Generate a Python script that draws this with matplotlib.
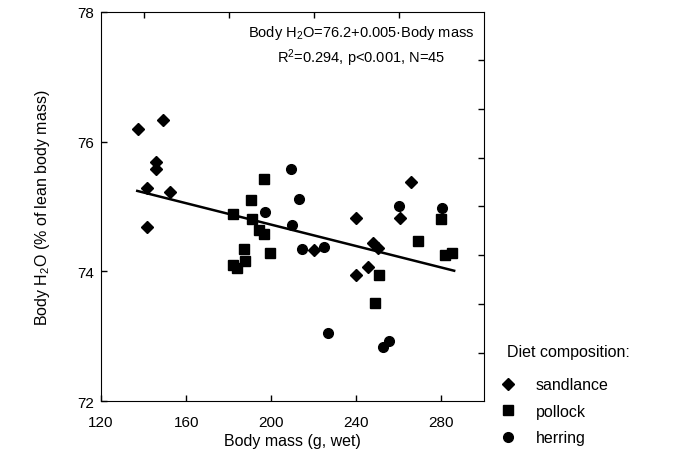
import matplotlib.pyplot as plt
from matplotlib.ticker import FixedLocator

# body mass (g, wet) and body water (% of lean body mass), by diet
sandlance_x = [137.5, 148.9, 145.8, 145.8, 152.3, 141.5, 141.5, 220.3, 265.6,
               239.7, 260.5, 247.8, 250.0, 245.3, 239.7]
sandlance_y = [76.20, 76.33, 75.69, 75.58, 75.23, 75.28, 74.68, 74.33, 75.38,
               74.83, 74.82, 74.43, 74.36, 74.07, 73.95]
pollock_x = [196.6, 190.4, 182.1, 190.9, 194.3, 196.5, 187.1, 199.2, 187.5,
             182.2, 183.8, 279.9, 269.1, 281.8, 284.9, 250.6, 248.7]
pollock_y = [75.43, 75.10, 74.88, 74.80, 74.64, 74.57, 74.35, 74.29, 74.16,
             74.10, 74.05, 74.80, 74.47, 74.25, 74.28, 73.94, 73.52]
herring_x = [209.3, 213.1, 197.1, 209.8, 214.3, 224.9, 259.9, 280.3, 226.6,
             252.4, 255.4]
herring_y = [75.57, 75.12, 74.91, 74.72, 74.35, 74.38, 75.01, 74.97, 73.05,
             72.84, 72.92]

# regression line end points
fit_x = [137, 286]
fit_y = [75.24, 74.01]

plt.rcParams['font.family'] = ['Liberation Sans', 'DejaVu Sans']
plt.rcParams['mathtext.default'] = 'regular'

fig = plt.figure(figsize=(6.74, 4.56), dpi=100)
ax = fig.add_axes([0.15, 0.118, 0.568, 0.854])

ax.plot(fit_x, fit_y, color='black', lw=1.8, zorder=2)
h1, = ax.plot(sandlance_x, sandlance_y, 'D', color='black', ms=6, ls='none', zorder=3)
h2, = ax.plot(pollock_x, pollock_y, 's', color='black', ms=7, ls='none', zorder=3)
h3, = ax.plot(herring_x, herring_y, 'o', color='black', ms=7, ls='none', zorder=3)

ax.set_xlim(120, 300)
ax.set_ylim(72, 78)
ax.set_xticks([120, 160, 200, 240, 280])
ax.set_yticks([72, 74, 76, 78])
ax.xaxis.set_minor_locator(FixedLocator([140, 160, 180, 200, 220, 240, 260, 280]))
ax.yaxis.set_minor_locator(FixedLocator([72.75, 73.5, 74.25, 75, 75.75, 76.5, 77.25]))
ax.tick_params(which='both', direction='in', length=4, width=1)
ax.tick_params(axis='x', which='major', bottom=True, top=False, pad=10)
ax.tick_params(axis='x', which='minor', bottom=False, top=True)
ax.tick_params(axis='y', which='major', left=True, right=False, pad=5)
ax.tick_params(axis='y', which='minor', left=False, right=True)
ax.tick_params(axis='both', which='major', labelsize=11)

ax.set_xlabel('Body mass (g, wet)', fontsize=11.5, labelpad=3)
ax.set_ylabel('Body H$_2$O (% of lean body mass)', fontsize=11.5, labelpad=18)

ax.text(0.68, 0.949, 'Body H$_2$O=76.2+0.005\u00b7Body mass',
        transform=ax.transAxes, ha='center', va='center', fontsize=10.5)
ax.text(0.68, 0.884, 'R$^2$=0.294, p<0.001, N=45',
        transform=ax.transAxes, ha='center', va='center', fontsize=10.5)

# legend: title as separate text, entries below
fig.text(0.752, 0.228, 'Diet composition:', fontsize=11.5, va='center', ha='left')
fig.legend([h1, h2, h3], ['sandlance', 'pollock', 'herring'],
           loc='upper left', bbox_to_anchor=(0.746, 0.170), frameon=False,
           fontsize=11.5, handletextpad=1.45, labelspacing=0.72,
           borderpad=0, borderaxespad=0, handlelength=0.6)

fig.savefig('out.png', dpi=100)
